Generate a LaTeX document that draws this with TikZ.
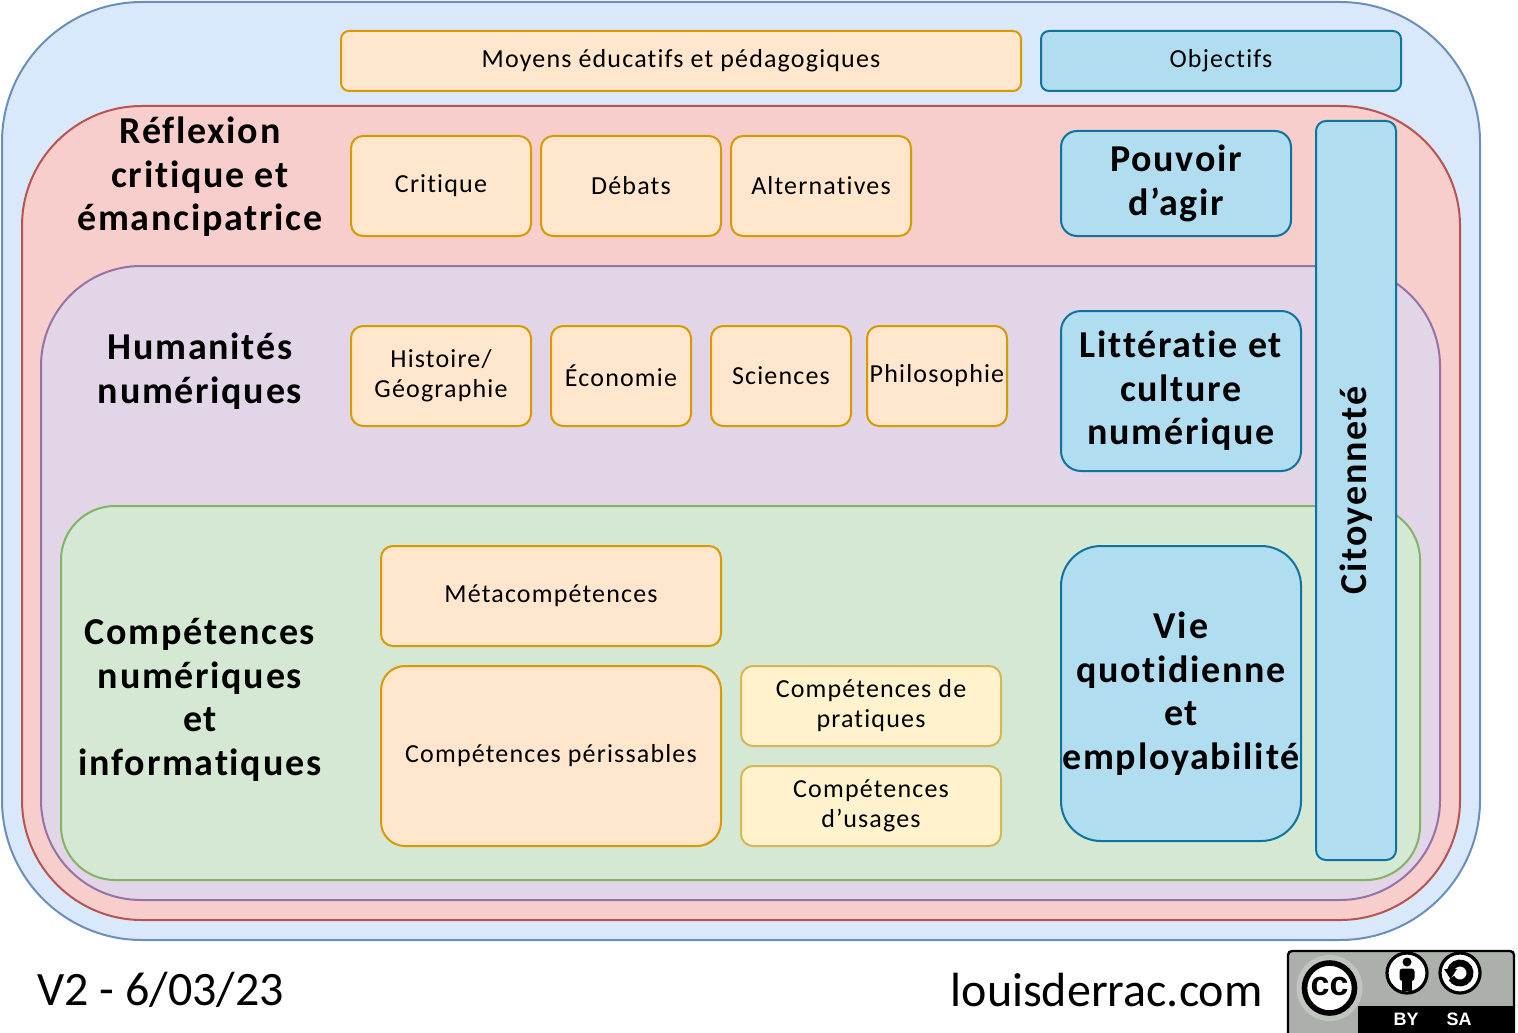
\documentclass[tikz,border=0pt]{standalone}
\usepackage{fontspec}
\setmainfont{Carlito}[LetterSpace=4.5, Ligatures=NoCommon]
\newfontfamily\plainf{Carlito}
\newfontfamily\ccfont{Liberation Sans}
\definecolor{blueF}{HTML}{DAE8FC}\definecolor{blueD}{HTML}{6C8EBF}
\definecolor{redF}{HTML}{F8CECC}\definecolor{redD}{HTML}{B85450}
\definecolor{purF}{HTML}{E1D5E7}\definecolor{purD}{HTML}{9673A6}
\definecolor{grnF}{HTML}{D5E8D4}\definecolor{grnD}{HTML}{82B366}
\definecolor{orgF}{HTML}{FFE6CC}\definecolor{orgD}{HTML}{D79B00}
\definecolor{cyF}{HTML}{B1DDF0}\definecolor{cyD}{HTML}{10739E}
\definecolor{ylwF}{HTML}{FFF2CC}\definecolor{ylwD}{HTML}{D6B656}
\definecolor{ccgray}{HTML}{ABB1AA}
\tikzset{
  layer/.style={line width=1pt},
  lbl/.style={font=\fontsize{13}{15}\selectfont, align=center, inner sep=0pt},
  ttl/.style={font=\fontsize{19}{21.75}\selectfont\bfseries, align=center, inner sep=0pt},
  obox/.style={lbl, draw=orgD, fill=orgF, line width=1pt, rounded corners=6pt},
  ybox/.style={lbl, draw=ylwD, fill=ylwF, line width=1pt, rounded corners=6pt},
  cbox/.style={ttl, draw=cyD, fill=cyF, line width=1pt, rounded corners=8pt},
  foot/.style={font=\plainf\fontsize{24}{28}\selectfont, inner sep=0pt},
  ccicon/.style={fill=white, draw=black, line width=1.6pt},
  cclabel/.style={font=\ccfont\bfseries\fontsize{9}{9}\selectfont, text=white, inner sep=0pt},
}
\begin{document}
\begin{tikzpicture}[x=0.5pt,y=-0.5pt]
\useasboundingbox (0,0) rectangle (1518,1032);
% nested layers
\draw[layer, draw=blueD, fill=blueF, rounded corners=70pt] (2,2) rectangle (1480,940);
\draw[layer, draw=redD, fill=redF, rounded corners=60pt] (22,106) rectangle (1460,920);
\draw[layer, draw=purD, fill=purF, rounded corners=50pt] (41,266) rectangle (1440,900);
\draw[layer, draw=grnD, fill=grnF, rounded corners=27pt] (61,506) rectangle (1420,880);
% headers
\node[obox, rounded corners=4pt, minimum width=340pt, minimum height=30pt] (moyens) at (681,61) {Moyens éducatifs et pédagogiques};
\node[lbl, draw=cyD, fill=cyF, line width=1pt, rounded corners=4pt, minimum width=180pt, minimum height=30pt] (objectifs) at (1221,61) {Objectifs};
% titles
\node[ttl] (t1) at (200,177) {Réflexion\\critique et\\émancipatrice};
\node[ttl] (t2) at (200,371) {Humanités\\numériques};
\node[ttl] (t3) at (200,700) {Compétences\\numériques\\et\\informatiques};
% row 1
\node[obox, minimum width=90pt, minimum height=50pt] (critique) at (441,186) {Critique};
\node[obox, minimum width=90pt, minimum height=50pt] (debats) at (631,186) {Débats};
\node[obox, minimum width=90pt, minimum height=50pt] (alter) at (821,186) {Alternatives};
\node[cbox, minimum width=115pt, minimum height=52.5pt] (pouvoir) at (1176,183.5) {Pouvoir\\d’agir};
% row 2
\node[obox, minimum width=90pt, minimum height=50pt] (histoire) at (441,376) {Histoire/\\Géographie};
\node[obox, minimum width=70pt, minimum height=50pt] (eco) at (621,376) {Économie};
\node[obox, minimum width=70pt, minimum height=50pt] (sci) at (781,376) {Sciences};
\node[obox, minimum width=70pt, minimum height=50pt] (philo) at (937,376) {Philosophie};
\node[cbox, rounded corners=10pt, minimum width=120pt, minimum height=80pt] (litt) at (1181,391) {Littératie et\\culture\\numérique};
% row 3
\node[obox, minimum width=170pt, minimum height=50pt] (meta) at (551,596) {Métacompétences};
\node[obox, rounded corners=12pt, minimum width=170pt, minimum height=90pt] (peris) at (551,756) {Compétences périssables};
\node[ybox, minimum width=130pt, minimum height=40pt] (prat) at (871,706) {Compétences de\\pratiques};
\node[ybox, minimum width=130pt, minimum height=40pt] (usag) at (871,806) {Compétences\\d’usages};
\node[cbox, rounded corners=20pt, minimum width=120pt, minimum height=147.5pt] (vie) at (1181,693.5) {Vie\\quotidienne\\et\\employabilité};
% citoyennete
\node[cbox, rounded corners=5pt, rotate=90, minimum width=369.5pt, minimum height=40pt] (cito) at (1356,490.5) {Citoyenneté};
% footer
\node[foot, anchor=west] (version) at (37,990) {V2 - 6/03/23};
\node[foot, anchor=east] (site) at (1263,990) {louisderrac.com};
% CC BY-SA badge
\draw[fill=ccgray, draw=black, line width=1.2pt, rounded corners=2pt] (1288,951) rectangle (1514,1040);
\fill[black] (1358,1006) rectangle (1514,1040);
\fill[ccgray!75!white] (1329.5,988) circle (33);
\draw[fill=white, draw=black, line width=2.8pt] (1329.5,988) circle (25);
\node[font=\ccfont\bfseries\fontsize{17}{17}\selectfont, inner sep=0pt] (cc) at (1329.5,987) {cc};
\draw[ccicon] (1407,973) circle (20);
\fill[black] (1407,962) circle (4.5);
\fill[black, rounded corners=1.5pt] (1399.5,968.5) rectangle (1414.5,981);
\fill[black] (1402,978) rectangle (1412,991);
\draw[ccicon] (1460,973) circle (20);
\draw[black, line width=3.4pt] (1460,973) ++(150:10) arc[start angle=150, end angle=-165, radius=10];
\fill[black] (1444,969) -- (1457,969) -- (1450.5,979) -- cycle;
\node[cclabel] (by) at (1406,1019) {BY};
\node[cclabel] (sa) at (1459,1019) {SA};
\end{tikzpicture}
\end{document}
